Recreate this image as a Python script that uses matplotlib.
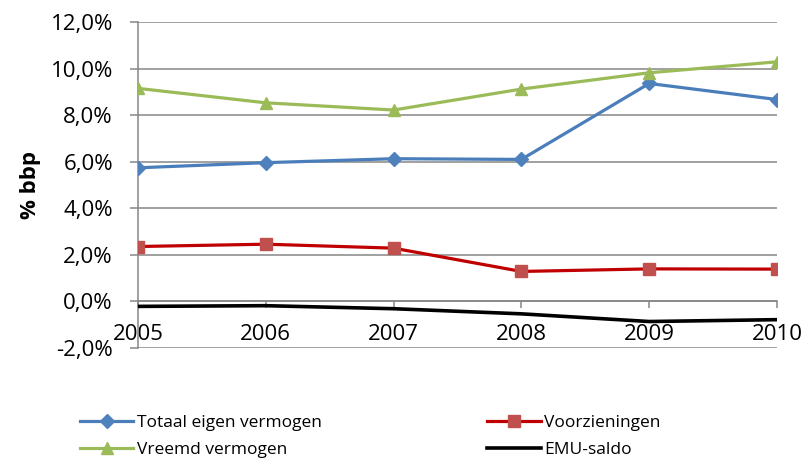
import matplotlib
matplotlib.use("Agg")
import matplotlib.pyplot as plt
from matplotlib.ticker import FuncFormatter

plt.rcParams['font.family'] = ['Open Sans', 'DejaVu Sans']

years = ['2005', '2006', '2007', '2008', '2009', '2010']
totaal_eigen_vermogen = [5.74, 5.96, 6.13, 6.10, 9.36, 8.67]
voorzieningen = [2.36, 2.46, 2.29, 1.29, 1.40, 1.39]
vreemd_vermogen = [9.15, 8.53, 8.22, 9.12, 9.82, 10.29]
emu_saldo = [-0.21, -0.18, -0.31, -0.53, -0.86, -0.78]
y_ticks = [-2, 0, 2, 4, 6, 8, 10, 12]

fig = plt.figure(figsize=(8.06, 4.58), dpi=100)
ax = fig.add_axes([0.1712, 0.240, 0.7928, 0.712])

x = list(range(len(years)))
grid_c = '#868686'

l1, = ax.plot(x, totaal_eigen_vermogen, color='#4A7EBB', lw=2.3, marker='D', ms=7,
              mfc='#4F81BD', mec='#4F81BD', label='Totaal eigen vermogen', zorder=3)
l2, = ax.plot(x, voorzieningen, color='#C00000', lw=2.3, marker='s', ms=8,
              mfc='#C0504D', mec='#C0504D', label='Voorzieningen', zorder=3)
l3, = ax.plot(x, vreemd_vermogen, color='#9BBB59', lw=2.3, marker='^', ms=9,
              mfc='#9BBB59', mec='#9BBB59', label='Vreemd vermogen', zorder=3)
l4, = ax.plot(x, emu_saldo, color='black', lw=2.6, label='EMU-saldo', zorder=3)

ax.set_xlim(0, len(years) - 1)
ax.set_ylim(-2, 12)
ax.set_yticks(y_ticks)
ax.yaxis.set_major_formatter(FuncFormatter(lambda v, p: f"{v:.1f}%".replace('.', ',')))
ax.set_xticks(x)
ax.set_xticklabels(years)

ax.grid(axis='y', color=grid_c, lw=1.1, zorder=1)
ax.spines['top'].set_visible(False)
ax.spines['right'].set_visible(False)
ax.spines['left'].set_color(grid_c)
ax.spines['left'].set_linewidth(1.1)
ax.spines['bottom'].set_position(('data', 0))
ax.spines['bottom'].set_color(grid_c)
ax.spines['bottom'].set_linewidth(1.1)
ax.tick_params(axis='y', length=6, width=1.1, color=grid_c, labelsize=16, pad=12)
ax.tick_params(axis='x', length=5, width=1.1, color=grid_c, labelsize=16, pad=11)

ax.set_ylabel('% bbp', fontsize=16, fontweight='bold')
ax.yaxis.set_label_coords(-0.152, 0.5)

fig.legend(handles=[l1, l3, l2, l4], loc='upper left', bbox_to_anchor=(0.088, 0.113),
           ncol=2, frameon=False, fontsize=12.5, handlelength=3.1, handletextpad=0.2,
           columnspacing=9.5, labelspacing=0.6, borderpad=0)

fig.savefig('out.png', dpi=100)
